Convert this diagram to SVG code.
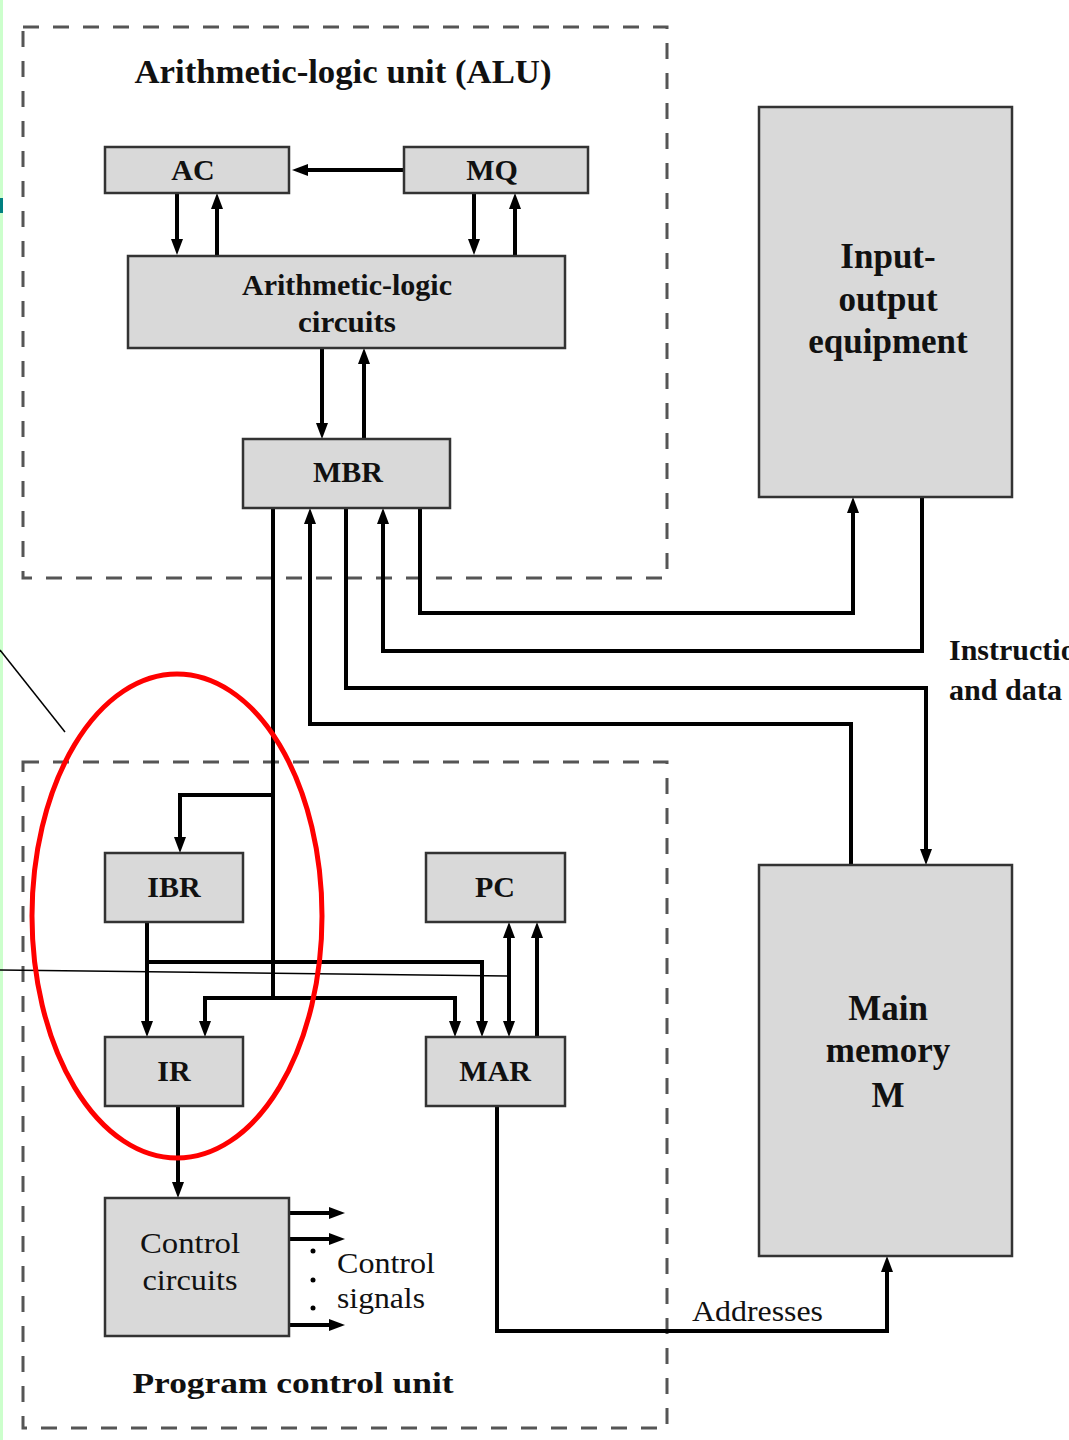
<svg xmlns="http://www.w3.org/2000/svg" width="1069" height="1440" viewBox="0 0 1069 1440">
<style>
.box{fill:#d9d9d9;stroke:#333;stroke-width:2.5}
.dash{fill:none;stroke:#555;stroke-width:3;stroke-dasharray:16 14}
.t{font-family:"Liberation Serif","Times New Roman",serif;font-weight:bold;fill:#111;text-anchor:middle}
.lb{font-size:30px}
.big{font-size:35px}
.r{font-family:"Liberation Serif","Times New Roman",serif;fill:#111;font-size:30px}
.c{fill:none;stroke:#000;stroke-width:4;stroke-linejoin:miter}
.a{marker-end:url(#ah)}
.thin{fill:none;stroke:#000;stroke-width:1.5}
</style>
<defs>
<marker id="ah" viewBox="0 -7 16 14" markerWidth="16" markerHeight="14" refX="6" refY="0" orient="auto-start-reverse" markerUnits="userSpaceOnUse">
<path d="M0,-6 L16,0 L0,6 z" fill="#000"/>
</marker>
</defs>
<rect x="0" y="0" width="1069" height="1440" fill="#fff"/>
<rect x="0" y="0" width="3" height="1440" fill="#ccffcc"/>
<rect x="0" y="198" width="3" height="15" fill="#008080"/>

<g id="alu-group">
<rect class="dash" x="23" y="27" width="644" height="551"/>
<text class="t" x="343" y="83" font-size="33" textLength="417" lengthAdjust="spacingAndGlyphs">Arithmetic-logic unit (ALU)</text>
</g>
<g id="pcu-group">
<rect class="dash" x="23" y="762" width="644" height="666"/>
<text class="t" x="293" y="1393" font-size="30" textLength="321" lengthAdjust="spacingAndGlyphs">Program control unit</text>
</g>

<g id="connectors">
<path class="c a" d="M403,170 H302"/>
<path class="c a" d="M177,193 V245"/>
<path class="c a" d="M217,255 V203"/>
<path class="c a" d="M474,193 V245"/>
<path class="c a" d="M515,255 V203"/>
<path class="c a" d="M322,348 V429"/>
<path class="c a" d="M364,439 V358"/>
<path class="c a" d="M420,508 V613 H853 V507"/>
<path class="c a" d="M922,497 V651 H383 V518"/>
<path class="c a" d="M346,508 V688 H926 V855"/>
<path class="c a" d="M851,865 V724 H310 V518"/>
<path class="c" d="M273,508 V998"/>
<path class="c a" d="M273,795 H180 V843"/>
<path class="c a" d="M147,922 V1027"/>
<path class="c a" d="M147,962 H482 V1027"/>
<path class="c a" d="M273,998 H205 V1027"/>
<path class="c a" d="M273,998 H455 V1027"/>
<path class="c a" d="M509,932 V1027" marker-start="url(#ah)"/>
<path class="c a" d="M537,1037 V932"/>
<path class="c a" d="M178,1106 V1188"/>
<path class="c a" d="M289,1213 H335"/>
<path class="c a" d="M289,1239 H335"/>
<path class="c a" d="M289,1325 H335"/>
<path class="c a" d="M497,1106 V1331 H887 V1266"/>
<circle cx="313" cy="1251" r="2.5" fill="#000"/>
<circle cx="313" cy="1280" r="2.5" fill="#000"/>
<circle cx="313" cy="1308" r="2.5" fill="#000"/>
<text class="r" x="337" y="1273" textLength="98" lengthAdjust="spacingAndGlyphs">Control</text>
<text class="r" x="337" y="1308" textLength="88" lengthAdjust="spacingAndGlyphs">signals</text>
<text class="r" x="692" y="1321" textLength="131" lengthAdjust="spacingAndGlyphs">Addresses</text>
<text class="r" x="949" y="660" font-weight="bold" font-size="29">Instructions</text>
<text class="r" x="949" y="700" font-weight="bold" font-size="29" textLength="113" lengthAdjust="spacingAndGlyphs">and data</text>
</g>

<g id="AC"><rect class="box" x="105" y="147" width="184" height="46"/><text class="t lb" x="193" y="180">AC</text></g>
<g id="MQ"><rect class="box" x="404" y="147" width="184" height="46"/><text class="t lb" x="492" y="180">MQ</text></g>
<g id="ALC"><rect class="box" x="128" y="256" width="437" height="92"/>
<text class="t lb" x="347" y="295" textLength="210" lengthAdjust="spacingAndGlyphs">Arithmetic-logic</text>
<text class="t lb" x="347" y="332" textLength="98" lengthAdjust="spacingAndGlyphs">circuits</text></g>
<g id="MBR"><rect class="box" x="243" y="439" width="207" height="69"/><text class="t lb" x="348" y="482">MBR</text></g>
<g id="IO"><rect class="box" x="759" y="107" width="253" height="390"/>
<text class="t big" x="888" y="268">Input-</text>
<text class="t big" x="888" y="311">output</text>
<text class="t big" x="888" y="353">equipment</text></g>
<g id="MM"><rect class="box" x="759" y="865" width="253" height="391"/>
<text class="t big" x="888" y="1020">Main</text>
<text class="t big" x="888" y="1062">memory</text>
<text class="t big" x="888" y="1107">M</text></g>
<g id="IBR"><rect class="box" x="105" y="853" width="138" height="69"/><text class="t lb" x="174" y="897">IBR</text></g>
<g id="PC"><rect class="box" x="426" y="853" width="139" height="69"/><text class="t lb" x="495" y="897">PC</text></g>
<g id="IR"><rect class="box" x="105" y="1037" width="138" height="69"/><text class="t lb" x="174" y="1081">IR</text></g>
<g id="MAR"><rect class="box" x="426" y="1037" width="139" height="69"/><text class="t lb" x="495" y="1081">MAR</text></g>
<g id="CC"><rect class="box" x="105" y="1198" width="184" height="138"/>
<text class="r" x="190" y="1253" text-anchor="middle" textLength="100" lengthAdjust="spacingAndGlyphs">Control</text>
<text class="r" x="190" y="1290" text-anchor="middle" textLength="95" lengthAdjust="spacingAndGlyphs">circuits</text></g>

<g id="annotations">
<path class="thin" d="M0,650 L65,732"/>
<path class="thin" d="M0,970 L507,976"/>
<ellipse cx="177" cy="916" rx="145" ry="242" fill="none" stroke="#ff0000" stroke-width="5"/>
</g>
</svg>
